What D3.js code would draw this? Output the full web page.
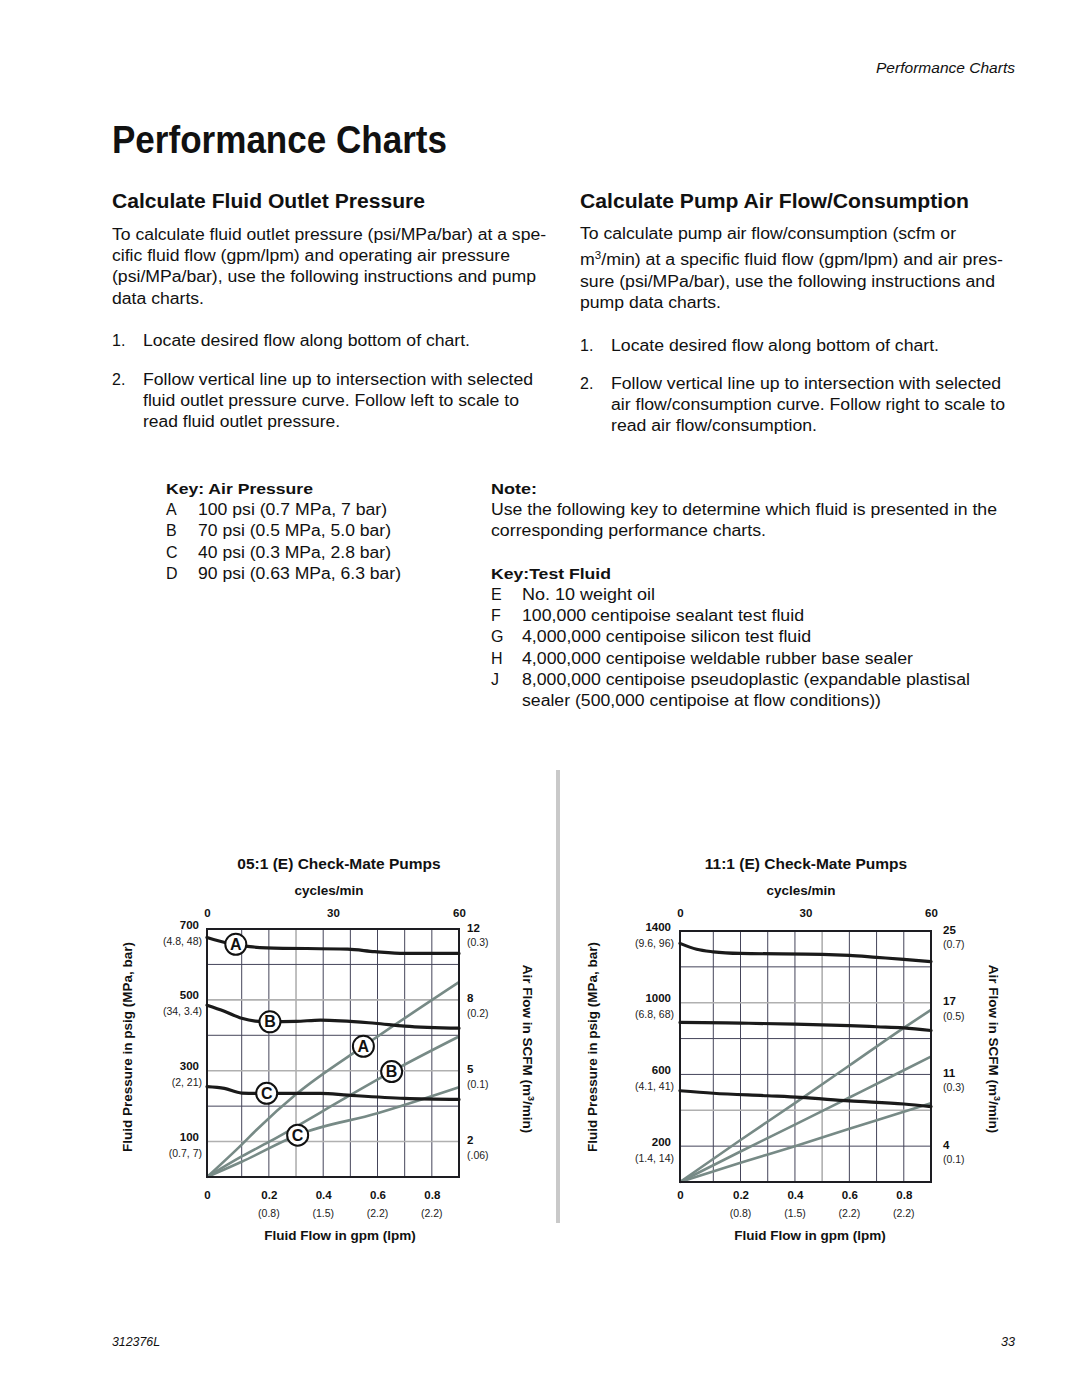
<!DOCTYPE html>
<html><head><meta charset="utf-8">
<script src="https://cdn.jsdelivr.net/npm/d3@7"></script>
<style>
html,body{margin:0;padding:0;background:#fff;}
svg{display:block;font-family:"Liberation Sans",Arial,Helvetica,sans-serif;}
</style></head><body>
<svg id="page" width="1080" height="1397"></svg>
<script>
// ---------------- DATA ----------------
const flowTicks = [0, 0.2, 0.4, 0.6, 0.8];
const flowTickLpm = ["", "(0.8)", "(1.5)", "(2.2)", "(2.2)"];
const cycleTicks = [0, 30, 60];

// 05:1 chart
const c05Title = "05:1 (E) Check-Mate Pumps";
const c05PsiTicks = [700, 500, 300, 100];
const c05PsiSub = ["(4.8, 48)", "(34, 3.4)", "(2, 21)", "(0.7, 7)"];
const c05ScfmTicks = [12, 8, 5, 2];
const c05ScfmSub = ["(0.3)", "(0.2)", "(0.1)", "(.06)"];
// fluid pressure (psi) vs flow (gpm)
const p05A = [[0,676],[0.06,660],[0.13,650],[0.19,647],[0.49,643],[0.59,636],[0.7,631],[0.9,631]];
const p05B = [[0,485],[0.05,468],[0.1,448],[0.15,440],[0.2,438],[0.3,439],[0.39,443],[0.59,434],[0.7,426],[0.9,420]];
const p05C = [[0,255],[0.05,250],[0.1,237],[0.2,236],[0.3,236],[0.39,236],[0.49,231],[0.7,222],[0.9,219]];
// air flow (scfm) vs flow (gpm)
const a05A = [[0,0],[0.1,1.83],[0.155,2.5],[0.3,4.0],[0.55,6.05],[0.9,9.0]];
const a05B = [[0,0],[0.1,1.16],[0.2,1.98],[0.49,3.9],[0.65,4.95],[0.9,6.45]];
const a05C = [[0,0],[0.1,0.86],[0.31,2.3],[0.6,3.2],[0.9,4.3]];
const lab05P = [["A",0.083],["B",0.204],["C",0.192]];
const lab05Air = [["A",0.548],["B",0.652],["C",0.306]];

// 11:1 chart
const c11Title = "11:1 (E) Check-Mate Pumps";
const c11PsiTicks = [1400, 1000, 600, 200];
const c11PsiSub = ["(9.6, 96)", "(6.8, 68)", "(4.1, 41)", "(1.4, 14)"];
const c11ScfmTicks = [25, 17, 11, 4];
const c11ScfmSub = ["(0.7)", "(0.5)", "(0.3)", "(0.1)"];
const p11A = [[0,1331],[0.05,1298],[0.1,1284],[0.2,1275],[0.5,1270],[0.6,1264],[0.7,1253],[0.8,1242],[0.9,1229]];
const p11B = [[0,890],[0.2,886],[0.4,881],[0.6,872],[0.7,866],[0.8,860],[0.9,845]];
const p11C = [[0,509],[0.1,495],[0.3,481],[0.42,472],[0.6,452],[0.8,435],[0.9,420]];
const a11A = [[0,0],[0.2,4.6],[0.4,8.2],[0.6,11.75],[0.8,14.9],[0.9,16.4]];
const a11B = [[0,0],[0.2,3.4],[0.4,6.1],[0.6,8.75],[0.8,11.35],[0.9,12.5]];
const a11C = [[0,0],[0.2,2.15],[0.4,4.0],[0.6,5.7],[0.8,7.35],[0.9,8.2]];

// ---------------- PAGE TEXT ----------------
const svg = d3.select("#page");
function ptext(t, x, y, o) {
  o = o || {};
  const el = svg.append("text").attr("x", x).attr("y", y)
    .attr("font-size", o.size || 16)
    .attr("font-weight", o.weight || "normal")
    .attr("font-style", o.style || "normal")
    .attr("text-anchor", o.anchor || "start")
    .attr("fill", "#111");
  if (o.sup) {
    el.append("tspan").text(o.sup[0]);
    el.append("tspan").text(o.sup[1]).attr("font-size", (o.size||16)*0.65).attr("dy", -6);
    el.append("tspan").text(t).attr("dy", 6);
  } else el.text(t);
  if (o.w) el.attr("textLength", o.w).attr("lengthAdjust", "spacingAndGlyphs");
  return el;
}
ptext("Performance Charts", 1015, 73, {size:14.5, style:"italic", anchor:"end", w:139});
ptext("Performance Charts", 112, 153, {size:38, weight:"bold", w:335});
ptext("Calculate Fluid Outlet Pressure", 112, 208, {size:20, weight:"bold", w:313});
ptext("Calculate Pump Air Flow/Consumption", 580, 208, {size:20, weight:"bold", w:389});

ptext("To calculate fluid outlet pressure (psi/MPa/bar) at a spe-", 112, 240, {w:434});
ptext("cific fluid flow (gpm/lpm) and operating air pressure", 112, 261, {w:398});
ptext("(psi/MPa/bar), use the following instructions and pump", 112, 282, {w:424});
ptext("data charts.", 112, 304, {w:92});
ptext("1.", 112, 346);
ptext("Locate desired flow along bottom of chart.", 143, 346, {w:327});
ptext("2.", 112, 385);
ptext("Follow vertical line up to intersection with selected", 143, 385, {w:390});
ptext("fluid outlet pressure curve. Follow left to scale to", 143, 406, {w:376});
ptext("read fluid outlet pressure.", 143, 427, {w:197});

ptext("To calculate pump air flow/consumption (scfm or", 580, 239, {w:376});
ptext("/min) at a specific fluid flow (gpm/lpm) and air pres-", 580, 265, {w:423, sup:["m","3"]});
ptext("sure (psi/MPa/bar), use the following instructions and", 580, 287, {w:415});
ptext("pump data charts.", 580, 308, {w:141});
ptext("1.", 580, 351);
ptext("Locate desired flow along bottom of chart.", 611, 351, {w:328});
ptext("2.", 580, 389);
ptext("Follow vertical line up to intersection with selected", 611, 389, {w:390});
ptext("air flow/consumption curve. Follow right to scale to", 611, 410, {w:394});
ptext("read air flow/consumption.", 611, 431, {w:206});

ptext("Key: Air Pressure", 166, 494, {size:15.5, weight:"bold", w:147});
const keyAir = [["A","100 psi (0.7 MPa, 7 bar)",189],["B","70 psi (0.5 MPa, 5.0 bar)",193],["C","40 psi (0.3 MPa, 2.8 bar)",193],["D","90 psi (0.63 MPa, 6.3 bar)",203]];
keyAir.forEach((k,i)=>{ ptext(k[0], 166, 515+i*21.4); ptext(k[1], 198, 515+i*21.4, {w:k[2]}); });

ptext("Note:", 491, 494, {size:15.5, weight:"bold", w:46});
ptext("Use the following key to determine which fluid is presented in the", 491, 515, {w:506});
ptext("corresponding performance charts.", 491, 536, {w:275});
ptext("Key:Test Fluid", 491, 579, {size:15.5, weight:"bold", w:120});
const keyFluid = [["E","No. 10 weight oil",133],["F","100,000 centipoise sealant test fluid",282],["G","4,000,000 centipoise silicon test fluid",289],["H","4,000,000 centipoise weldable rubber base sealer",391],["J","8,000,000 centipoise pseudoplastic (expandable plastisal",448]];
keyFluid.forEach((k,i)=>{ ptext(k[0], 491, 600+i*21.2); ptext(k[1], 522, 600+i*21.2, {w:k[2]}); });
ptext("sealer (500,000 centipoise at flow conditions))", 522, 706, {w:359});

ptext("312376L", 112, 1346, {size:13, style:"italic", w:48});
ptext("33", 1015, 1346, {size:13, style:"italic", anchor:"end", w:14});

// divider
svg.append("rect").attr("x", 556).attr("y", 770).attr("width", 4).attr("height", 453).attr("fill", "#c9c9c9");

// ---------------- CHARTS ----------------
function drawChart(c) {
  const g = svg.append("g");
  const x = d3.scaleLinear().domain([0, 0.1, 0.9]).range([c.L, c.L + c.first, c.R]);
  const y = d3.scaleLinear().domain([0, c.psiMax]).range([c.B, c.T]);
  const y2 = d3.scaleLinear().domain(c.scfmDomain).range(c.scfmAt.map(v => y(v)));
  const cyc = d3.scaleLinear().domain([0, 60]).range([c.L, c.R]);

  // grid
  g.selectAll("line.vg").data(d3.range(1, 9).map(i => i / 10)).join("line")
    .attr("x1", d => x(d)).attr("x2", d => x(d)).attr("y1", c.T).attr("y2", c.B)
    .attr("stroke", d => c.lightX.some(v => Math.abs(v - d) < 1e-6) ? "#b0b0b0" : "#45455a")
    .attr("stroke-width", d => c.lightX.some(v => Math.abs(v - d) < 1e-6) ? 1.6 : 1);
  g.selectAll("line.hg").data(d3.range(1, 7).map(i => i * c.psiMax / 7)).join("line")
    .attr("x1", c.L).attr("x2", c.R).attr("y1", d => y(d)).attr("y2", d => y(d))
    .attr("stroke", d => c.lightY.includes(Math.round(d)) ? "#b0b0b0" : "#45455a")
    .attr("stroke-width", d => c.lightY.includes(Math.round(d)) ? 1.6 : 1);

  // air flow lines
  const aLine = d3.line().x(d => x(d[0])).y(d => y2(d[1])).curve(d3.curveMonotoneX);
  g.selectAll("path.air").data(c.air).join("path")
    .attr("d", aLine).attr("fill", "none").attr("stroke", "#778a86").attr("stroke-width", 2.6);

  // frame
  g.append("rect").attr("x", c.L).attr("y", c.T).attr("width", c.R - c.L).attr("height", c.B - c.T)
    .attr("fill", "none").attr("stroke", "#1d1d22").attr("stroke-width", 2);

  // pressure curves
  const pLine = d3.line().x(d => x(d[0])).y(d => y(d[1])).curve(d3.curveMonotoneX);
  g.selectAll("path.pr").data(c.press).join("path")
    .attr("d", pLine).attr("fill", "none").attr("stroke", "#1a1a1a").attr("stroke-width", 3.2)
    .attr("stroke-linecap", "round");

  // circled labels
  function interp(series, xv) {
    for (let i = 1; i < series.length; i++) {
      if (xv <= series[i][0]) {
        const a = series[i-1], b = series[i];
        return a[1] + (b[1] - a[1]) * (xv - a[0]) / (b[0] - a[0]);
      }
    }
    return series[series.length-1][1];
  }
  const labs = [];
  (c.labP || []).forEach((l, i) => labs.push({t: l[0], cx: x(l[1]), cy: y(interp(c.press[i], l[1]))}));
  (c.labA || []).forEach((l, i) => labs.push({t: l[0], cx: x(l[1]), cy: y2(interp(c.air[i], l[1]))}));
  const lg = g.selectAll("g.lab").data(labs).join("g");
  lg.append("circle").attr("cx", d => d.cx).attr("cy", d => d.cy).attr("r", 10.5)
    .attr("fill", "#fff").attr("stroke", "#111").attr("stroke-width", 2);
  lg.append("text").attr("x", d => d.cx).attr("y", d => d.cy + 5.6).attr("text-anchor", "middle")
    .attr("font-size", 16).attr("font-weight", "bold").attr("fill", "#111").text(d => d.t);

  // bottom axis
  const ax = g.append("g").attr("transform", `translate(0,1199)`)
    .call(d3.axisBottom(x).tickValues(flowTicks).tickSize(0).tickPadding(0)
      .tickFormat(d => d === 0 ? "0" : d3.format(".1f")(d)));
  ax.select(".domain").remove();
  ax.selectAll("text").attr("y", 0).attr("dy", 0).attr("font-size", 11.5).attr("font-weight", "bold")
    .attr("fill", "#111").attr("font-family", "Liberation Sans, Arial, sans-serif");
  g.selectAll("text.lpm").data(flowTicks).join("text")
    .attr("x", d => x(d)).attr("y", 1216.5).attr("text-anchor", "middle")
    .attr("font-size", 10.5).attr("fill", "#222").text((d, i) => flowTickLpm[i]);

  // top cycles axis
  const at = g.append("g").attr("transform", `translate(0,917)`)
    .call(d3.axisTop(cyc).tickValues(cycleTicks).tickSize(0).tickPadding(0).tickFormat(d3.format("d")));
  at.select(".domain").remove();
  at.selectAll("text").attr("y", 0).attr("dy", 0).attr("font-size", 11.5).attr("font-weight", "bold")
    .attr("fill", "#111").attr("font-family", "Liberation Sans, Arial, sans-serif");

  // left psi axis
  const al = g.append("g").attr("transform", `translate(${c.L - c.padL},0)`)
    .call(d3.axisLeft(y).tickValues(c.psiTicks).tickSize(0).tickPadding(0).tickFormat(d3.format("d")));
  al.select(".domain").remove();
  al.selectAll("text").attr("x", 0).attr("dy", -1).attr("font-size", 11.5).attr("font-weight", "bold")
    .attr("fill", "#111").attr("font-family", "Liberation Sans, Arial, sans-serif");
  g.selectAll("text.psub").data(c.psiTicks).join("text")
    .attr("x", c.L - c.padL + 3).attr("y", d => y(d) + 15.5).attr("text-anchor", "end")
    .attr("font-size", 10.5).attr("fill", "#222").text((d, i) => c.psiSub[i]);

  // right scfm axis
  const ar = g.append("g").attr("transform", `translate(${c.R + c.padR},0)`)
    .call(d3.axisRight(y2).tickValues(c.scfmTicks).tickSize(0).tickPadding(0).tickFormat(d3.format("d")));
  ar.select(".domain").remove();
  ar.selectAll("text").attr("x", 0).attr("dy", 2).attr("font-size", 11.5).attr("font-weight", "bold")
    .attr("fill", "#111").attr("font-family", "Liberation Sans, Arial, sans-serif");
  g.selectAll("text.ssub").data(c.scfmTicks).join("text")
    .attr("x", c.R + c.padR).attr("y", d => y2(d) + 17).attr("text-anchor", "start")
    .attr("font-size", 10.5).attr("fill", "#222").text((d, i) => c.scfmSub[i]);

  // titles
  g.append("text").attr("x", c.titleX).attr("y", 869).attr("text-anchor", "middle")
    .attr("font-size", 15.5).attr("font-weight", "bold").attr("fill", "#111").text(c.title);
  g.append("text").attr("x", c.cycX).attr("y", 895).attr("text-anchor", "middle")
    .attr("font-size", 13.5).attr("font-weight", "bold").attr("fill", "#111").text("cycles/min");
  g.append("text").attr("x", c.flowX).attr("y", 1240).attr("text-anchor", "middle")
    .attr("font-size", 13.5).attr("font-weight", "bold").attr("fill", "#111").text("Fluid Flow in gpm (lpm)");
  g.append("text").attr("transform", `translate(${c.ltX},1047) rotate(-90)`).attr("text-anchor", "middle")
    .attr("font-size", 13.5).attr("font-weight", "bold").attr("fill", "#111")
    .text("Fluid Pressure in psig (MPa, bar)");
  const rt = g.append("text").attr("transform", `translate(${c.rtX},1049) rotate(90)`).attr("text-anchor", "middle")
    .attr("font-size", 13.5).attr("font-weight", "bold").attr("fill", "#111");
  rt.append("tspan").text("Air Flow in SCFM (m");
  rt.append("tspan").text("3").attr("font-size", 9).attr("dy", -5);
  rt.append("tspan").text("/min)").attr("dy", 5);
}

drawChart({
  L: 207, R: 459, T: 929, B: 1177, first: 34.7, psiMax: 700,
  scfmDomain: [0, 2, 5, 8, 12], scfmAt: [0, 100, 300, 500, 700],
  lightX: [0.3], lightY: [100, 300, 500],
  air: [a05A, a05B, a05C], press: [p05A, p05B, p05C],
  labP: lab05P, labA: lab05Air,
  psiTicks: c05PsiTicks, psiSub: c05PsiSub, scfmTicks: c05ScfmTicks, scfmSub: c05ScfmSub,
  padL: 8, padR: 8, title: c05Title, titleX: 339, cycX: 329, flowX: 340, ltX: 132, rtX: 523
});
drawChart({
  L: 680, R: 931, T: 931, B: 1182, first: 33.3, psiMax: 1400,
  scfmDomain: [0, 4, 11, 17, 25], scfmAt: [0, 200, 600, 1000, 1400],
  lightX: [0.5], lightY: [1000, 400],
  air: [a11A, a11B, a11C], press: [p11A, p11B, p11C],
  labP: [], labA: [],
  psiTicks: c11PsiTicks, psiSub: c11PsiSub, scfmTicks: c11ScfmTicks, scfmSub: c11ScfmSub,
  padL: 9, padR: 12, title: c11Title, titleX: 806, cycX: 801, flowX: 810, ltX: 597, rtX: 989
});
</script></body></html>
